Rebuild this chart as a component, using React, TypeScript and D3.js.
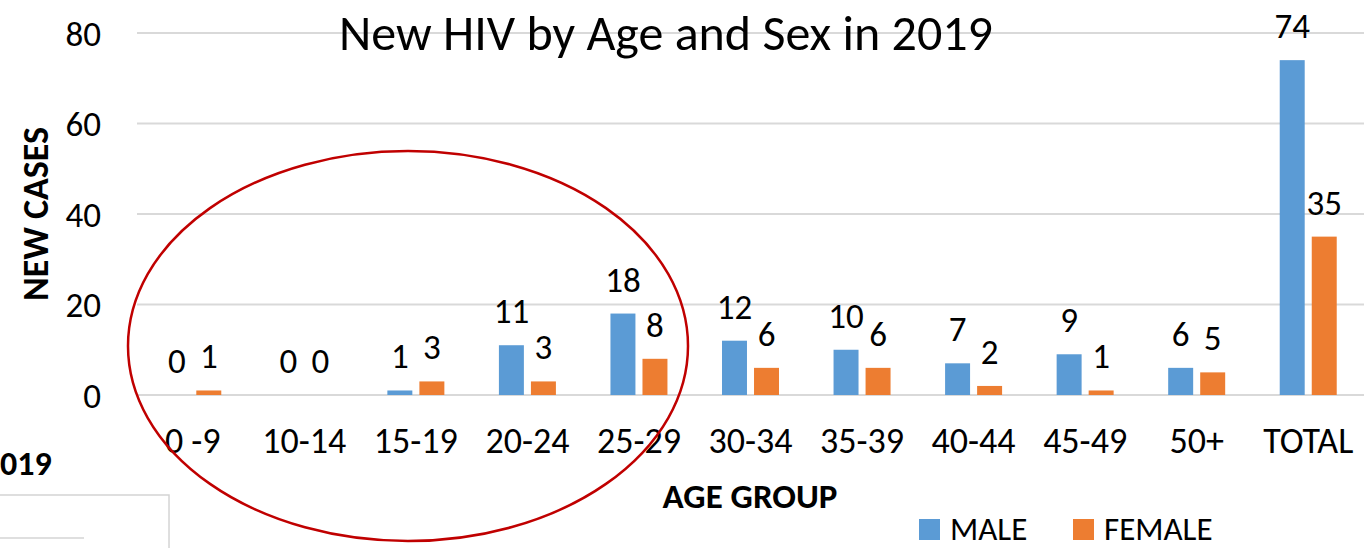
import React, { useEffect, useRef } from 'react';
import * as d3 from 'd3';

const categories = ['0 -9', '10-14', '15-19', '20-24', '25-29', '30-34', '35-39', '40-44', '45-49', '50+', 'TOTAL'];
const maleValues = [0, 0, 1, 11, 18, 12, 10, 7, 9, 6, 74];
const femaleValues = [1, 0, 3, 3, 8, 6, 6, 2, 1, 5, 35];
const seriesNames = ['MALE', 'FEMALE'];
const yTicks = [0, 20, 40, 60, 80];

const FONT = 'Calibri, Carlito, Lato, sans-serif';

const App = () => {
  const ref = useRef<SVGSVGElement | null>(null);

  useEffect(() => {
    const width = 1370, height = 548;
    const svg = d3.select(ref.current);
    svg.selectAll('*').remove();

    const color = d3.scaleOrdinal<string, string>()
      .domain(seriesNames)
      .range(['#5B9BD5', '#ED7D31']);

    // x: age groups
    const x = d3.scaleBand()
      .domain(categories)
      .range([137, 1364])
      .padding(0);

    const bw = x.bandwidth();
    const xSub = d3.scaleBand()
      .domain(seriesNames)
      .range([bw / 2 - 28.5, bw / 2 + 28.5])
      .paddingInner(0.22);

    const y = d3.scaleLinear()
      .domain([0, 80])
      .range([395, 33]);

    // gridlines
    svg.append('g')
      .selectAll('line')
      .data(yTicks)
      .join('line')
      .attr('x1', 137)
      .attr('x2', 1364)
      .attr('y1', d => y(d))
      .attr('y2', d => y(d))
      .attr('stroke', '#d9d9d9')
      .attr('stroke-width', 2);

    // y tick labels
    svg.append('g')
      .selectAll('text')
      .data(yTicks)
      .join('text')
      .attr('x', 101)
      .attr('y', d => y(d))
      .attr('dy', '0.36em')
      .attr('text-anchor', 'end')
      .style('font-family', FONT)
      .style('font-size', '35px')
      .attr('fill', '#000')
      .text(d => d);

    // title (gridline shows through)
    svg.append('text')
      .attr('x', 666)
      .attr('y', 50)
      .attr('text-anchor', 'middle')
      .style('font-family', FONT)
      .style('font-size', '50px')
      .text('New HIV by Age and Sex in 2019');

    const rows = categories.map((c, i) => ({ group: c, MALE: maleValues[i], FEMALE: femaleValues[i] }));

    // bars
    const groups = svg.append('g')
      .selectAll('g')
      .data(rows)
      .join('g')
      .attr('transform', d => `translate(${x(d.group)},0)`);

    const cells = (d: any) => seriesNames.map(key => ({ key, value: d[key] as number }));

    groups.selectAll('rect')
      .data(cells)
      .join('rect')
      .attr('x', d => xSub(d.key)!)
      .attr('y', d => y(d.value))
      .attr('width', xSub.bandwidth())
      .attr('height', d => y(0) - y(d.value))
      .attr('fill', d => color(d.key));

    // data labels
    groups.selectAll('text')
      .data(cells)
      .join('text')
      .attr('x', d => xSub(d.key)! + xSub.bandwidth() / 2)
      .attr('y', d => y(d.value) - 22)
      .attr('text-anchor', 'middle')
      .style('font-family', FONT)
      .style('font-size', '35px')
      .text(d => d.value);

    // category labels
    svg.append('g')
      .selectAll('text')
      .data(categories)
      .join('text')
      .attr('x', d => x(d)! + bw / 2)
      .attr('y', 453)
      .attr('text-anchor', 'middle')
      .style('font-family', FONT)
      .style('font-size', '36px')
      .text(d => d);

    // axis titles
    svg.append('text')
      .attr('x', 750)
      .attr('y', 508)
      .attr('text-anchor', 'middle')
      .style('font-family', FONT)
      .style('font-size', '35px')
      .style('font-weight', 'bold')
      .text('AGE GROUP');

    svg.append('text')
      .attr('transform', 'translate(48,214) rotate(-90)')
      .attr('text-anchor', 'middle')
      .style('font-family', FONT)
      .style('font-size', '36px')
      .style('font-weight', 'bold')
      .text('NEW CASES');

    // legend
    const legendX = [919, 1073];
    const legend = svg.append('g')
      .selectAll('g')
      .data(seriesNames)
      .join('g')
      .attr('transform', (d, i) => `translate(${legendX[i]},519)`);
    legend.append('rect')
      .attr('width', 21)
      .attr('height', 21)
      .attr('fill', d => color(d));
    legend.append('text')
      .attr('x', 31)
      .attr('y', 21)
      .style('font-family', FONT)
      .style('font-size', '33px')
      .text(d => d);

    // leftovers of the page behind the chart
    svg.append('text')
      .attr('x', 0)
      .attr('y', 475)
      .style('font-family', FONT)
      .style('font-size', '34px')
      .style('font-weight', 'bold')
      .text('019');
    svg.append('rect')
      .attr('x', -2)
      .attr('y', 495)
      .attr('width', 171)
      .attr('height', 100)
      .attr('fill', 'none')
      .attr('stroke', '#d4d4d4')
      .attr('stroke-width', 1.5);
    svg.append('line')
      .attr('x1', 0)
      .attr('x2', 84)
      .attr('y1', 538)
      .attr('y2', 538)
      .attr('stroke', '#d4d4d4')
      .attr('stroke-width', 1.5);

    // red highlight ellipse
    svg.append('ellipse')
      .attr('cx', 408)
      .attr('cy', 346)
      .attr('rx', 280)
      .attr('ry', 195)
      .attr('fill', 'none')
      .attr('stroke', '#C00000')
      .attr('stroke-width', 2.5);

    svg.attr('width', width).attr('height', height);
  }, []);

  return (
    <svg
      ref={ref}
      width={1370}
      height={548}
      style={{ position: 'absolute', left: 0, top: 0, background: '#fff', display: 'block' }}
    />
  );
};

export default App;
